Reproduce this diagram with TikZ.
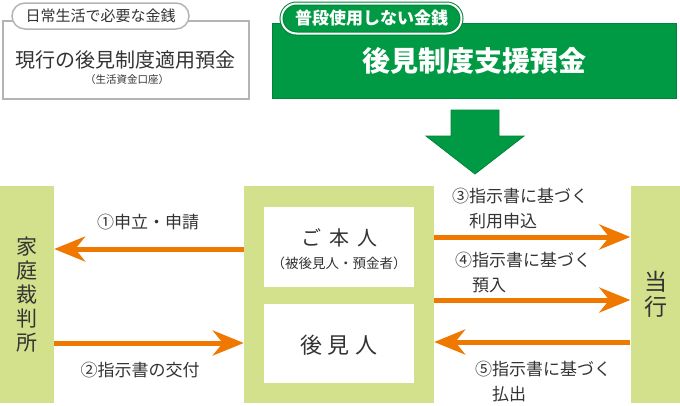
\documentclass[tikz,border=0pt]{standalone}
\usepackage{fontspec}
\setmainfont{Noto Sans CJK JP}
\usetikzlibrary{arrows.meta}
\definecolor{pale}{HTML}{D3E08C}
\definecolor{bgreen}{HTML}{009A44}
\definecolor{dgreen}{HTML}{00843A}
\definecolor{orng}{HTML}{EE7800}
\definecolor{txt}{HTML}{333333}
\definecolor{frame}{HTML}{B4B4B4}

\begin{document}
\begin{tikzpicture}[
        x=1pt, y=-1pt,
        text=txt,
        T/.style = {inner sep=0pt, font=\fontsize{#1}{#1}\selectfont},% plain text
        C/.style = {fill=pale, minimum width=#1, minimum height=217pt,% columns
                inner sep=0pt, align=center},
        W/.style = {fill=white, minimum width=150pt, minimum height=80pt},% boxes in the middle
        A/.style = {draw=orng, line width=5pt,
                -{Stealth[length=31pt, width=25pt, inset=10pt]}},
        L/.style = {anchor=west, inner sep=0pt, align=left,% labels of arrows
                font=\fontsize{17}{25}\selectfont},
    ]
    \useasboundingbox (0,0) rectangle (680,405);
    % money for daily life
    \node[draw=frame, line width=1.5pt, minimum width=246pt, minimum height=78pt] (daily) at (126,60) {};
    \node[T=20] (dailyname) at (125,60) {現行の後見制度適用預金};
    \node[T=10.5] (dailysub) at (127,80) {（生活資金口座）};
    \node[draw=frame, line width=1.5pt, fill=white, rounded corners=13pt,
        minimum width=177pt, minimum height=26pt, T=15] (dailytag) at (100.5,16) {日常生活で必要な金銭};
    % money not used
    \node[fill=bgreen, draw=dgreen, line width=1.5pt, minimum width=404pt, minimum height=75pt,
        text=white, font=\bfseries\fontsize{28}{30}\selectfont] (support) at (474.5,61) {後見制度支援預金};
    \node[fill=bgreen, draw=dgreen, double=white, double distance=2pt, line width=1pt,
        rounded corners=15pt, minimum width=180pt, minimum height=30pt, inner sep=0pt,
        text=white, font=\bfseries\fontsize{17}{18}\selectfont] (unusedtag) at (371.5,18.5) {普段使用しない金銭};
    \filldraw[fill=bgreen, draw=dgreen, line width=.8pt]
        (451,110) -- (499,110) -- (499,136) -- (524,136) -- (475,174) -- (426,136) -- (451,136) -- cycle;
    % persons
    \node[C=54pt, font=\fontsize{21}{24}\selectfont] (court) at (27,294.5) {家\\庭\\裁\\判\\所};
    \node[C=190pt] (person) at (339,294.5) {};
    \node[C=51pt, font=\fontsize{23}{25}\selectfont] (bank) at (656,294.5) {当\\行};
    \node[W] (honnin) at (339,247) {};
    \node[T=20] (honninname) at (339,238) {ご\hspace{8pt}本\hspace{8pt}人};
    \node[T=13.5] (honninsub) at (339,263) {（被後見人・預金者）};
    \node[W, minimum height=79pt] (guardian) at (339,343.5) {};
    \node[T=22] (guardianname) at (339,345) {後\hspace{6pt}見\hspace{6pt}人};
    % arrows
    \draw[A] (person.west |- 0,249) -- (court.east |- 0,249);
    \draw[A] (court.east |- 0,343) -- (person.west |- 0,343);
    \draw[A] (person.east |- 0,237) -- (bank.west |- 0,237);
    \draw[A] (person.east |- 0,300) -- (bank.west |- 0,300);
    \draw[A] (bank.west |- 0,342) -- (person.east |- 0,342);
    \node[T=17] (lab1) at (148,222) {①申立・申請};
    \node[T=17] (lab2) at (140,370) {②指示書の交付};
    \node[L] (lab3) at (452,209) {③指示書に基づく\\\hspace*{1em}利用申込};
    \node[L] (lab4) at (455,272.5) {④指示書に基づく\\\hspace*{1em}預入};
    \node[L] (lab5) at (475,381) {⑤指示書に基づく\\\hspace*{1em}払出};
\end{tikzpicture}
\end{document}
